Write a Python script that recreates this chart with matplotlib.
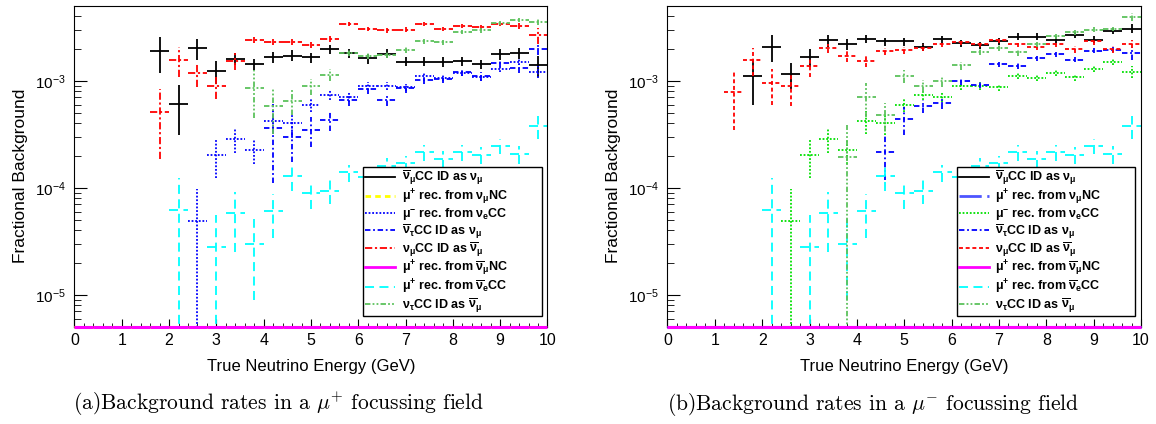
import numpy as np
import matplotlib
matplotlib.use("Agg")
import matplotlib.pyplot as plt
from matplotlib.lines import Line2D
from matplotlib.font_manager import FontProperties
from matplotlib.ticker import MultipleLocator

plt.rcParams['mathtext.default'] = 'regular'
plt.rcParams['font.family'] = ['Liberation Sans Narrow', 'Liberation Sans', 'DejaVu Sans']

# 25 bins of 0.4 GeV from 0 to 10 GeV, fractions in units of 1e-3
centres = np.linspace(0.2, 9.8, 25)
half_w = 0.2
unit = 1e-3
ylo, yhi = 5e-6, 5e-3

# --- shared between both fields ---
nue_cc = [0.049, 0.203, 0.285, 0.226, 0.417, 0.400, 0.597, 0.740, 0.710, 0.900,
          0.900, 0.870, 1.11, 1.07, 1.19, 1.08, 1.30, 1.51, 1.22]          # from 2.6 GeV
nue_cc_err = [0.049, 0.08, 0.075, 0.06, 0.10, 0.09, 0.09, 0.08, 0.07, 0.08,
              0.08, 0.07, 0.08, 0.08, 0.08, 0.08, 0.09, 0.10, 0.15]
nuebar_cc = [0.062, np.nan, 0.0277, 0.058, 0.030, 0.061, 0.129, 0.089, 0.094, 0.139,
             0.125, 0.160, 0.170, 0.214, 0.186, 0.214, 0.203, 0.248, 0.208, 0.374]  # from 2.2 GeV
nuebar_cc_err = [0.062, np.nan, 0.0277, 0.033, 0.021, 0.027, 0.035, 0.025, 0.023, 0.025,
                 0.025, 0.030, 0.030, 0.035, 0.035, 0.035, 0.035, 0.040, 0.040, 0.090]
numubar_nc = [0.0] * 25
numu_nc = [0.0] * 25

# --- (a) mu+ focussing ---
a_numubar_id = [1.88, 0.61, 2.02, 1.24, 1.61, 1.43, 1.67, 1.72, 1.65, 1.98, 1.80,
                1.62, 1.79, 1.51, 1.51, 1.50, 1.52, 1.43, 1.77, 1.81, 1.39]  # from 1.8 GeV
a_numubar_err = [0.70, 0.30, 0.45, 0.30, 0.22, 0.18, 0.20, 0.20, 0.18, 0.20, 0.17,
                 0.17, 0.17, 0.15, 0.15, 0.15, 0.15, 0.15, 0.20, 0.20, 0.30]
a_nutaubar_id = [0.36, 0.296, 0.35, 0.43, 0.66, 0.84, 0.66, 0.85, 1.02, 1.03, 1.20,
                 1.10, 1.46, 1.31, 1.98]                                    # from 4.2 GeV
a_nutaubar_err = [0.25, 0.12, 0.11, 0.09, 0.08, 0.08, 0.08, 0.08, 0.08, 0.08, 0.10,
                  0.10, 0.12, 0.12, 0.25]
a_numu_id = [0.516, 1.57, 1.18, 0.885, 1.54, 2.42, 2.30, 2.30, 2.17, 2.47, 3.40,
             3.05, 2.96, 3.00, 3.40, 3.05, 3.23, 3.16, 3.42, 3.23, 2.66]    # from 1.8 GeV
a_numu_err = [0.33, 0.48, 0.30, 0.21, 0.28, 0.15, 0.15, 0.15, 0.15, 0.15, 0.15,
              0.15, 0.15, 0.15, 0.15, 0.15, 0.15, 0.15, 0.15, 0.20, 0.45]
a_nutau_id = [0.85, 0.575, 0.65, 0.885, 1.14, 1.82, 1.72, 1.75, 1.95, 2.34, 2.29,
              2.86, 2.96, 3.47, 3.73, 3.55]                                 # from 3.8 GeV
a_nutau_err = [0.40, 0.26, 0.17, 0.15, 0.15, 0.12, 0.12, 0.12, 0.12, 0.12, 0.12,
               0.15, 0.15, 0.15, 0.15, 0.20]

# --- (b) mu- focussing ---
b_numubar_id = [1.10, 2.09, 1.16, 1.67, 2.38, 2.20, 2.47, 2.33, 2.33, 2.09, 2.45,
                2.25, 2.14, 2.33, 2.59, 2.59, 2.42, 2.67, 2.42, 2.93, 3.07]  # from 1.8 GeV
b_numubar_err = [0.50, 0.60, 0.32, 0.33, 0.30, 0.25, 0.20, 0.20, 0.20, 0.18, 0.18,
                 0.18, 0.18, 0.18, 0.18, 0.18, 0.18, 0.18, 0.18, 0.20, 0.30]
b_nutaubar_id = [0.218, 0.44, 0.584, 0.62, 1.00, 0.92, 1.42, 1.38, 1.62, 1.76, 1.57,
                 1.91, 1.95, 1.81]                                          # from 4.6 GeV
b_nutaubar_err = [0.10, 0.13, 0.08, 0.08, 0.08, 0.07, 0.08, 0.08, 0.08, 0.08, 0.08,
                  0.10, 0.10, 0.25]
b_numu_id = [0.785, 1.57, 0.95, 0.885, 1.38, 2.02, 1.69, 1.54, 1.88, 1.92, 2.04,
             2.20, 2.29, 2.20, 2.42, 2.20, 2.09, 2.20, 1.98, 2.33, 1.98, 2.20]  # from 1.4 GeV
b_numu_err = [0.44, 0.45, 0.35, 0.30, 0.30, 0.20, 0.20, 0.20, 0.15, 0.15, 0.15,
              0.15, 0.15, 0.15, 0.15, 0.15, 0.15, 0.15, 0.15, 0.15, 0.15, 0.18]
b_nutau_id = [0.195, 0.71, 0.48, 1.10, 0.90, 1.00, 1.39, 1.85, 2.02, 1.84, 2.20,
              2.60, 2.83, 3.00, 3.05, 3.94]                                 # from 3.8 GeV
b_nutau_err = [0.195, 0.25, 0.14, 0.15, 0.12, 0.12, 0.12, 0.12, 0.12, 0.12, 0.12,
               0.15, 0.15, 0.15, 0.15, 0.35]

labels = [r'$\overline{\nu}_{\mu}$CC ID as $\nu_{\mu}$',
          r'$\mu^{+}$ rec. from $\nu_{\mu}$NC',
          r'$\mu^{-}$ rec. from $\nu_{e}$CC',
          r'$\overline{\nu}_{\tau}$CC ID as $\nu_{\mu}$',
          r'$\nu_{\mu}$CC ID as $\overline{\nu}_{\mu}$',
          r'$\mu^{+}$ rec. from $\overline{\nu}_{\mu}$NC',
          r'$\mu^{+}$ rec. from $\overline{\nu}_{e}$CC',
          r'$\nu_{\tau}$CC ID as $\overline{\nu}_{\mu}$']

dot = (0, (1, 1))
dashdot = (0, (3, 1.5, 1, 1.5))
dash3dot = (0, (3, 1.2, 1, 1.2, 1, 1.2))
longdash = (0, (5, 3))
green = '#5cc25c'

# (values, errors, colour, linestyle) in legend order
panel_a = [(a_numubar_id, a_numubar_err, 'black', '-'),
           (numu_nc, None, '#ffff00', (0, (2, 1.5))),
           (nue_cc, nue_cc_err, '#0000ff', dot),
           (a_nutaubar_id, a_nutaubar_err, '#0000ff', dashdot),
           (a_numu_id, a_numu_err, '#ff0000', (0, (4, 1.5, 1.2, 1.5))),
           (numubar_nc, None, '#ff00ff', '-'),
           (nuebar_cc, nuebar_cc_err, '#00ffff', longdash),
           (a_nutau_id, a_nutau_err, green, dash3dot)]
panel_b = [(b_numubar_id, b_numubar_err, 'black', '-'),
           (numu_nc, None, '#4d55ff', (0, (8, 2, 2, 2))),
           (nue_cc, nue_cc_err, '#00e000', dot),
           (b_nutaubar_id, b_nutaubar_err, '#0000ff', dashdot),
           (b_numu_id, b_numu_err, '#ff0000', (0, (2.2, 1.5))),
           (numubar_nc, None, '#ff00ff', '-'),
           (nuebar_cc, nuebar_cc_err, '#00ffff', longdash),
           (b_nutau_id, b_nutau_err, green, dash3dot)]

fig = plt.figure(figsize=(11.56, 4.24), dpi=100)
ax_a = fig.add_axes([0.0644, 0.2288, 0.4092, 0.7571])
ax_b = fig.add_axes([0.5774, 0.2288, 0.4096, 0.7571])

leg_font = FontProperties(family='Liberation Sans', weight='bold', size=9.0)


def draw_panel(ax, series):
    handles = []
    for vals, errs, col, ls in series:
        v = np.array(vals) * unit
        x = centres[-len(v):]
        if errs is None:
            # empty histograms sit on the bottom of the frame
            eb = ax.errorbar(x, np.maximum(v, ylo), xerr=half_w, fmt='none',
                             ecolor=col, elinewidth=2.2, zorder=5)
            for lc in eb[2]:
                lc.set_clip_on(False)
        else:
            e = np.array(errs) * unit
            eb = ax.errorbar(x, v, xerr=half_w, yerr=e, fmt='none',
                             ecolor=col, elinewidth=1.3)
        for lc in eb[2]:
            lc.set_linestyle(ls)
        handles.append(Line2D([], [], color=col, ls=ls,
                              lw=2.0 if errs is None else 1.3))
    ax.set_yscale('log')
    ax.set_xlim(0, 10)
    ax.set_ylim(ylo, yhi)
    ax.xaxis.set_major_locator(MultipleLocator(1))
    ax.xaxis.set_minor_locator(MultipleLocator(0.2))
    ax.tick_params(which='both', direction='in', top=False, right=False)
    ax.tick_params(axis='y', which='major', length=9.5, pad=6, labelsize=11)
    ax.tick_params(axis='y', which='minor', length=5)
    ax.tick_params(axis='x', which='major', length=6, pad=4, labelsize=11.5)
    ax.tick_params(axis='x', which='minor', length=3)
    ax.set_xlabel('True Neutrino Energy (GeV)', fontsize=12, labelpad=8)
    ax.set_ylabel('Fractional Background', fontsize=12.5, family='Liberation Sans')
    ax.yaxis.set_label_coords(-0.098, 0.47)
    leg = ax.legend(handles, labels, loc='upper left',
                    bbox_to_anchor=(0.611, 0.0654, 0.377, 0.432), mode='expand',
                    borderaxespad=0, prop=leg_font, handlelength=2.4,
                    handletextpad=0.5, labelspacing=0.0, borderpad=0.15,
                    fancybox=False, framealpha=1, edgecolor='black')
    leg.get_frame().set_linewidth(1.0)


draw_panel(ax_a, panel_a)
draw_panel(ax_b, panel_b)

fig.text(0.063, 0.047, r'(a)Background rates in a $\mathit{\mu}^{+}$ focussing field',
         family='cmr10', math_fontfamily='cm', fontsize=15.5, va='center')
fig.text(0.577, 0.047, r'(b)Background rates in a $\mathit{\mu}^{-}$ focussing field',
         family='cmr10', math_fontfamily='cm', fontsize=15.5, va='center')

fig.savefig('out.png', dpi=100)
